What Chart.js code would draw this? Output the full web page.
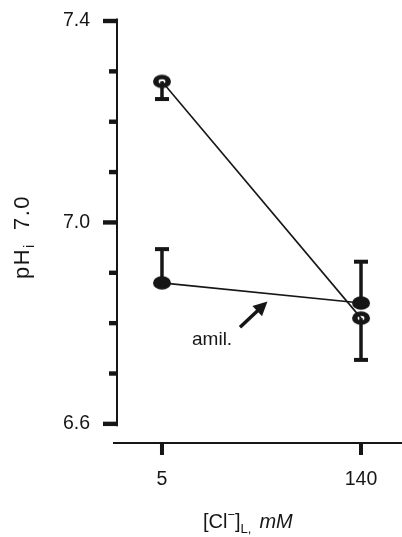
<!DOCTYPE html>
<html><head><meta charset="utf-8">
<script src="https://cdn.jsdelivr.net/npm/chart.js@4/dist/chart.umd.min.js"></script>
<style>html,body{margin:0;padding:0;background:#fff}#wrap{width:402px;height:537px}</style>
</head><body><div id="wrap"><canvas id="c" width="402" height="537"></canvas></div>
<script>
// ---- data ----
const categories = ['5', '140'];          // [Cl-]L, mM
const xPositions = [0, 1];
const controlValues = [7.28, 6.81];       // open circles
const controlSE = [0.035, 0.083];         // drawn downward
const amilValues = [6.88, 6.84];          // filled circles (amiloride)
const amilSE = [0.067, 0.082];            // drawn upward
const yTickValues = [6.6, 6.7, 6.8, 6.9, 7.0, 7.1, 7.2, 7.3, 7.4];
const yTickLabels = ['6.6', '7.0', '7.4'];
const amilLabel = 'amil.';

const INK = '#161616';
const FONT = '"Liberation Sans", Arial, Helvetica, sans-serif';

function makeMarker(filled) {
  const c = document.createElement('canvas');
  c.width = 20; c.height = 16;
  const g = c.getContext('2d');
  g.fillStyle = INK;
  g.beginPath(); g.ellipse(10, 8, 9, 6.8, 0, 0, Math.PI * 2); g.fill();
  if (!filled) {
    g.globalCompositeOperation = 'destination-out';
    g.beginPath(); g.ellipse(10, 8, 3.4, 2.2, 0, 0, Math.PI * 2); g.fill();
  }
  return c;
}

const decor = {
  id: 'decor',
  beforeDatasetsDraw(chart) {
    const { ctx, chartArea: a, scales: { x, y } } = chart;
    ctx.save();
    ctx.strokeStyle = INK; ctx.fillStyle = INK;
    // y axis line
    ctx.lineWidth = 2;
    ctx.beginPath();
    ctx.moveTo(a.left, y.getPixelForValue(7.4) - 2.5);
    ctx.lineTo(a.left, y.getPixelForValue(6.6) + 2.5);
    ctx.stroke();
    // y ticks
    yTickValues.forEach(v => {
      const py = y.getPixelForValue(v);
      const len = yTickLabels.includes(v.toFixed(1)) ? 14 : 8;
      ctx.fillRect(a.left - len, py - 2.2, len, 4.4);
    });
    // x axis line
    ctx.lineWidth = 2;
    ctx.beginPath();
    ctx.moveTo(a.left - 4, a.bottom);
    ctx.lineTo(chart.width, a.bottom);
    ctx.stroke();
    // x ticks
    xPositions.forEach(v => {
      const px = x.getPixelForValue(v);
      ctx.fillRect(px - 2, a.bottom, 4, 12);
    });
    // error bars
    const bars = (vals, se, dir) => {
      vals.forEach((v, i) => {
        const px = x.getPixelForValue(xPositions[i]);
        const p0 = y.getPixelForValue(v);
        const p1 = y.getPixelForValue(v + dir * se[i]);
        ctx.lineWidth = 3.5;
        ctx.beginPath(); ctx.moveTo(px, p0); ctx.lineTo(px, p1); ctx.stroke();
        ctx.lineWidth = 4;
        ctx.beginPath(); ctx.moveTo(px - 7, p1); ctx.lineTo(px + 7, p1); ctx.stroke();
      });
    };
    bars(controlValues, controlSE, -1);
    bars(amilValues, amilSE, 1);
    ctx.restore();
  },
  afterDatasetsDraw(chart) {
    const { ctx, scales: { x, y } } = chart;
    ctx.save();
    ctx.fillStyle = INK; ctx.strokeStyle = INK;
    // arrow
    const tx = x.getPixelForValue(0.392), ty = y.getPixelForValue(6.792);
    const hx = x.getPixelForValue(0.53), hy = y.getPixelForValue(6.843);
    const ang = Math.atan2(hy - ty, hx - tx);
    const hl = 14, hw = 7;
    const bx = hx - hl * Math.cos(ang), by = hy - hl * Math.sin(ang);
    ctx.lineWidth = 3.5;
    ctx.beginPath(); ctx.moveTo(tx, ty); ctx.lineTo(bx + 3 * Math.cos(ang), by + 3 * Math.sin(ang)); ctx.stroke();
    ctx.beginPath();
    ctx.moveTo(hx, hy);
    ctx.lineTo(bx + hw * Math.sin(ang), by - hw * Math.cos(ang));
    ctx.lineTo(bx - hw * Math.sin(ang), by + hw * Math.cos(ang));
    ctx.closePath(); ctx.fill();
    // amil. label
    ctx.font = '19px ' + FONT;
    ctx.textBaseline = 'alphabetic';
    ctx.fillText(amilLabel, x.getPixelForValue(0.151), y.getPixelForValue(6.757));

    // x title
    let cx = 203; const by0 = 528;
    const put = (t, f, dy) => { ctx.font = f; ctx.fillText(t, cx, by0 + dy); cx += ctx.measureText(t).width; };
    put('[Cl', '20px ' + FONT, 0);
    put('\u2212', '13px ' + FONT, -9);
    put(']', '20px ' + FONT, 0);
    put('L,', '13px ' + FONT, 5);
    cx += 8;
    put('mM', 'italic 20px ' + FONT, 0);

    // y title (rotated)
    ctx.translate(29, 279);
    ctx.rotate(-Math.PI / 2);
    if ('letterSpacing' in ctx) ctx.letterSpacing = '1.5px';
    let rx = 0;
    const putR = (t, f, dy) => { ctx.font = f; ctx.fillText(t, rx, dy); rx += ctx.measureText(t).width; };
    putR('pH', '22px ' + FONT, 0);
    putR('i', '14px ' + FONT, 5);
    rx = 49;
    putR('7.0', '22px ' + FONT, 0);
    ctx.restore();
  }
};

const ctrlPts = controlValues.map((v, i) => ({ x: xPositions[i], y: v }));
const amilPts = amilValues.map((v, i) => ({ x: xPositions[i], y: v }));
const noPad = s => { s.paddingTop = 0; s.paddingBottom = 0; s.paddingLeft = 0; s.paddingRight = 0; };

new Chart(document.getElementById('c'), {
  type: 'line',
  data: {
    datasets: [
      { label: 'control', data: ctrlPts, borderColor: INK, borderWidth: 1.6,
        pointStyle: makeMarker(false), pointRadius: 9, pointHoverRadius: 9, fill: false, tension: 0 },
      { label: 'amiloride', data: amilPts, borderColor: INK, borderWidth: 1.6,
        pointStyle: makeMarker(true), pointRadius: 9, pointHoverRadius: 9, fill: false, tension: 0 }
    ]
  },
  options: {
    responsive: false, animation: false, devicePixelRatio: 1,
    layout: { autoPadding: false, padding: { top: 21, left: 0, right: 0, bottom: 0 } },
    plugins: { legend: { display: false }, tooltip: { enabled: false } },
    scales: {
      x: {
        type: 'linear', position: 'bottom', min: -0.226, max: 1.206,
        grid: { display: false, drawTicks: false }, border: { display: false },
        afterBuildTicks: s => { s.ticks = xPositions.map(v => ({ value: v })); },
        afterFit: s => { s.height = 94; noPad(s); },
        ticks: { callback: v => categories[xPositions.indexOf(v)], color: INK,
                 font: { family: FONT, size: 19.5 }, padding: 25, maxRotation: 0, autoSkip: false }
      },
      y: {
        type: 'linear', min: 6.562, max: 7.4,
        grid: { display: false, drawTicks: false }, border: { display: false },
        afterBuildTicks: s => { s.ticks = yTickValues.map(v => ({ value: v })); },
        afterFit: s => { s.width = 117; noPad(s); },
        ticks: { callback: v => yTickLabels.includes(Number(v).toFixed(1)) ? Number(v).toFixed(1) : '',
                 color: INK, font: { family: FONT, size: 19.5 }, padding: 27, autoSkip: false }
      }
    }
  },
  plugins: [decor]
});
</script></body></html>
